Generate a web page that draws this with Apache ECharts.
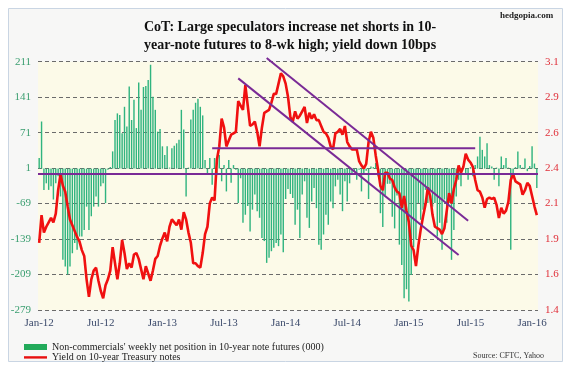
<!DOCTYPE html>
<html><head><meta charset="utf-8">
<script src="https://cdn.jsdelivr.net/npm/echarts@6/dist/echarts.min.js"></script>
<style>html,body{margin:0;padding:0;background:#fff;}#c{width:571px;height:370px;}</style>
</head><body><div id="c"></div>
<script>
// Non-commercials' weekly net position (000), weekly from Jan-2012
const netPosition = [
  21, 93, -42, -29, -42, -35, -61, -29, -15, -55,
  -180, -193, -209, -193, -167, -147, -160, -134, -134, -121,
  -75, -121, -94, -75, -55, -75, -35, -29, -68, -2,
  3, 34, 96, 109, 106, 70, 122, 83, 162, 96,
  136, 80, 170, 116, 161, 163, 175, 205, 142, 116,
  73, 78, 44, 27, 44, 2, 40, 45, 50, 57,
  116, 77, -55, 2, 97, 116, 130, 138, 122, 105,
  17, -9, 21, -32, 21, -12, 27, -25, 7, -45,
  17, -28, 7, -2, -68, -19, -107, -91, -74, -124,
  -81, -51, -84, -97, -137, -143, -186, -176, -163, -156,
  -147, -153, -130, -165, -60, -40, -50, -58, -111, -81,
  -137, -51, -25, -97, -117, -65, -38, -78, -150, -160,
  -130, -91, -111, -65, -78, -35, -22, -51, -84, -25,
  -65, -29, -12, -6, -22, -2, -45, -10, -4, -60,
  4, 3, 11, -15, -88, -115, -52, -30, -30, -95,
  -118, -53, -150, -190, -256, -238, -262, -210, -155, -140,
  -68, -101, -81, -42, -68, -42, -75, -68, -134, -107,
  -160, -61, -107, -68, -180, -121, -55, -22, -35, 5,
  -12, -22, 3, -15, 7, 24, 63, 37, 24, 50,
  7, 4, -22, 2, -35, 24, 7, 21, 2, -160,
  -9, 3, 34, 7, 2, 20, -5, 5, 44, 10,
  -38
];
// Yield on 10-year Treasury notes (%)
const yieldValues = [
  1.86, 2.05, 1.93, 1.97, 2.00, 2.03, 2.00, 2.06, 2.22, 2.33,
  2.25, 2.21, 2.11, 2.02, 1.98, 1.94, 1.90, 1.87, 1.81, 1.77,
  1.61, 1.49, 1.61, 1.67, 1.69, 1.60, 1.53, 1.48, 1.57, 1.61,
  1.67, 1.83, 1.72, 1.61, 1.72, 1.88, 1.79, 1.68, 1.72, 1.69,
  1.78, 1.79, 1.75, 1.68, 1.61, 1.70, 1.65, 1.60, 1.67, 1.75,
  1.77, 1.84, 1.89, 1.93, 1.87, 1.97, 2.02, 2.00, 1.98, 2.02,
  1.95, 2.07, 2.02, 1.93, 1.86, 1.72, 1.72, 1.70, 1.69, 1.79,
  1.92, 1.97, 2.13, 2.17, 2.15, 2.43, 2.52, 2.71, 2.65, 2.52,
  2.56, 2.60, 2.61, 2.62, 2.83, 2.80, 2.77, 2.94, 2.80, 2.66,
  2.67, 2.69, 2.62, 2.52, 2.65, 2.75, 2.76, 2.77, 2.82, 2.88,
  2.88, 2.95, 3.02, 3.00, 2.95, 2.86, 2.72, 2.69, 2.76, 2.71,
  2.73, 2.76, 2.79, 2.68, 2.75, 2.71, 2.74, 2.70, 2.70, 2.66,
  2.62, 2.61, 2.58, 2.52, 2.50, 2.61, 2.62, 2.64, 2.60, 2.66,
  2.55, 2.52, 2.50, 2.50, 2.50, 2.42, 2.39, 2.37, 2.40, 2.55,
  2.62, 2.58, 2.46, 2.36, 2.25, 2.22, 2.34, 2.34, 2.30, 2.29,
  2.24, 2.21, 2.20, 2.10, 2.18, 2.08, 2.00, 1.84, 1.81, 1.70,
  1.84, 1.95, 2.04, 2.12, 2.24, 2.18, 2.05, 1.97, 1.96, 1.95,
  1.92, 1.96, 2.08, 2.20, 2.13, 2.23, 2.29, 2.39, 2.34, 2.38,
  2.47, 2.43, 2.41, 2.38, 2.29, 2.22, 2.21, 2.17, 2.10, 2.16,
  2.17, 2.16, 2.17, 2.12, 2.03, 2.10, 2.06, 2.08, 2.14, 2.29,
  2.33, 2.28, 2.27, 2.26, 2.19, 2.22, 2.27, 2.25, 2.18, 2.11,
  2.05
];
const tickLabels = ['Jan-12','Jul-12','Jan-13','Jul-13','Jan-14','Jul-14','Jan-15','Jul-15','Jan-16'];
// Trend-line annotations on the yield scale: [week index, yield]
const channelUpper = [[96, 3.125], [181, 2.011]];
const channelLower = [[84, 2.986], [177, 1.777]];
const resistanceLine = [[73, 2.507], [184, 2.507]];
const supportLevel = 2.328;

const categories = netPosition.map((_, i) => {
  const d = new Date(Date.UTC(2012, 0, 3) + i * 7 * 86400000);
  return d.toISOString().slice(0, 10);
});

const serif = '"Liberation Serif", "Times New Roman", serif';
const purple = '#7a2a96';
const NAME_BAR = "Non-commercials' weekly net position in 10-year note futures (000)";
const NAME_LINE = 'Yield on 10-year Treasury notes';

const chart = echarts.init(document.getElementById('c'), null, {renderer: 'canvas'});
chart.setOption({
  animation: false,
  backgroundColor: '#ffffff',
  graphic: [
    {type: 'rect', z: -10, shape: {x: 8.5, y: 8.5, width: 554, height: 353},
     style: {fill: '#f7f7f6', stroke: '#c9d5e3', lineWidth: 1}},
    {type: 'text', left: 500, top: 11, style: {text: 'hedgopia.com', font: 'bold 9px ' + serif, fill: '#222'}},
    {type: 'text', left: 473, top: 352, style: {text: 'Source: CFTC, Yahoo', font: '8px ' + serif, fill: '#333'}}
  ],
  title: {
    text: 'CoT: Large speculators increase net shorts in 10-\nyear-note futures to 8-wk high; yield down 10bps',
    left: 139, top: 13,
    textStyle: {fontFamily: serif, fontWeight: 'bold', fontSize: 14, lineHeight: 18, color: '#111'}
  },
  legend: {
    orient: 'vertical', left: 19, top: 337, itemGap: 0,
    itemWidth: 23, itemHeight: 6,
    textStyle: {fontFamily: serif, fontSize: 10, color: '#222'},
    data: [
      {name: NAME_BAR, icon: 'rect', itemStyle: {color: '#22aa5a'}},
      {name: NAME_LINE, icon: 'path://M0,0M0,2.2L23,2.2L23,4.6L0,4.6ZM23,6', itemStyle: {color: '#e81010'}}
    ]
  },
  grid: {left: 38, right: 33, top: 61.7, bottom: 60, show: true, backgroundColor: '#fcfae8', borderWidth: 0},
  xAxis: {
    type: 'category', data: categories, boundaryGap: true,
    axisLine: {show: false}, axisTick: {show: false},
    axisLabel: {
      interval: (idx) => idx % 26 === 0,
      formatter: (v, idx) => tickLabels[idx / 26] || '',
      fontFamily: serif, fontSize: 11, color: '#3b4a6b', margin: 8
    },
    splitLine: {show: false}
  },
  yAxis: [
    {type: 'value', min: -279, max: 211, interval: 70,
     axisLine: {show: false}, axisTick: {show: false},
     axisLabel: {fontFamily: serif, fontSize: 11, color: '#3a9e70', margin: 7},
     splitLine: {show: true, lineStyle: {color: '#6b6b6b', type: [4, 3], width: 1}}},
    {type: 'value', min: 1.4, max: 3.1, interval: 1.7 / 7,
     axisLine: {show: false}, axisTick: {show: false},
     axisLabel: {fontFamily: serif, fontSize: 11, color: '#e0303a', margin: 7, formatter: (v) => v.toFixed(1)},
     splitLine: {show: false}}
  ],
  series: [
    {name: NAME_BAR, type: 'bar',
     data: netPosition, barWidth: '60%', itemStyle: {color: '#30b47f'}, z: 2},
    {name: NAME_LINE, type: 'line', yAxisIndex: 1, data: yieldValues,
     showSymbol: false, symbol: 'none', lineStyle: {color: '#f01010', width: 2.6}, itemStyle: {color: '#f01010'}, z: 3,
     markLine: {silent: true, symbol: 'none', label: {show: false},
       lineStyle: {color: purple, width: 2.2, type: 'solid'},
       data: [{yAxis: supportLevel}]}},
    {name: 'upper', type: 'line', yAxisIndex: 1, data: channelUpper, showSymbol: false, symbol: 'none', clip: false,
     lineStyle: {color: purple, width: 2}, z: 4},
    {name: 'lower', type: 'line', yAxisIndex: 1, data: channelLower, showSymbol: false, symbol: 'none', clip: false,
     lineStyle: {color: purple, width: 2}, z: 4},
    {name: 'resist', type: 'line', yAxisIndex: 1, data: resistanceLine, showSymbol: false, symbol: 'none', clip: false,
     lineStyle: {color: purple, width: 2}, z: 4}
  ]
});
</script></body></html>
